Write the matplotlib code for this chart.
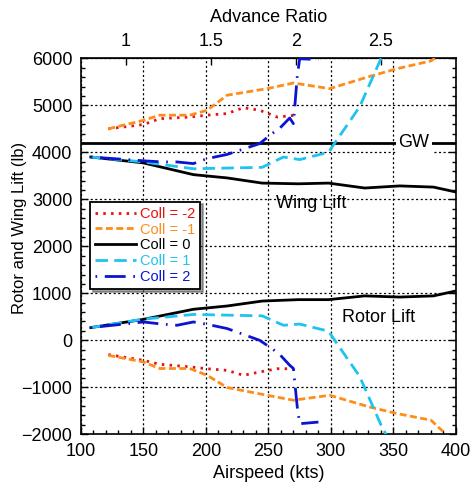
import matplotlib
matplotlib.use("Agg")
import matplotlib.pyplot as plt

plt.rcParams['font.family'] = ['Liberation Sans', 'DejaVu Sans']
plt.rcParams['lines.scale_dashes'] = False

# ---- data ----
gw_v = [100, 400]
gw_l = [4200, 4200]

c0_v = [108, 150, 190, 217, 245, 274, 298, 327, 355, 382, 400]
c0_wing = [3900, 3775, 3525, 3455, 3345, 3330, 3345, 3240, 3285, 3260, 3155]
c0_rotor = [270, 445, 660, 730, 835, 865, 865, 945, 920, 945, 1050]

c1_v = [108, 150, 190, 245, 262, 275, 298, 323, 340, 346]
c1_wing = [3900, 3795, 3650, 3680, 3900, 3845, 4000, 4970, 5995, 6300]
c1_rotor = [270, 450, 550, 520, 320, 345, 195, -770, -1800, -2100]

c2_v = [108, 150, 165, 177, 190, 201, 217, 243, 253, 259, 267, 270, 273, 275, 290]
c2_wing = [3900, 3820, 3795, 3795, 3760, 3865, 3955, 4185, 4400, 4510, 4730, 4610, 5600, 5990, 5975]
c2_rotor = [270, 390, 345, 320, 390, 340, 250, 0, -180, -300, -530, -600, -1400, -1775, -1740]

cm1_v = [122, 150, 163, 187, 201, 217, 249, 270, 299, 331, 353, 380, 391]
cm1_wing = [4500, 4680, 4790, 4790, 4895, 5215, 5355, 5475, 5355, 5615, 5780, 5945, 6170]
cm1_rotor = [-320, -460, -600, -600, -745, -1005, -1170, -1275, -1170, -1420, -1560, -1700, -1975]

cm2_v = [122, 150, 163, 187, 201, 217, 230, 243, 257, 270]
cm2_wing = [4500, 4590, 4715, 4750, 4790, 4825, 4950, 4895, 4750, 4785]
cm2_rotor = [-305, -425, -510, -565, -605, -640, -745, -675, -605, -605]

labels = ['Coll = -2', 'Coll = -1', 'Coll = 0', 'Coll = 1', 'Coll = 2']
colors = ['#e81010', '#ff8c1a', '#000000', '#1ec3f0', '#0a14d2']

x_ticks = [100, 150, 200, 250, 300, 350, 400]
y_ticks = [-2000, -1000, 0, 1000, 2000, 3000, 4000, 5000, 6000]
mu_ticks = [1, 1.5, 2, 2.5]
omega_r = 136.0  # kts per unit advance ratio

# ---- figure ----
fig = plt.figure(figsize=(4.72, 4.86), dpi=100)
ax = fig.add_axes([0.1712, 0.1064, 0.7949, 0.7736])

lw = 2.0
styles = [
    dict(color=colors[0], lw=lw, dashes=(1.8, 3.8)),
    dict(color=colors[1], lw=lw, dashes=(5, 2.5)),
    dict(color=colors[2], lw=lw),
    dict(color=colors[3], lw=lw, dashes=(9, 4.5)),
    dict(color=colors[4], lw=lw, dashes=(1.2, 5.5, 15, 5.5)),
]

ax.plot(gw_v, gw_l, color='black', lw=lw, zorder=3)

series = [(cm2_v, cm2_wing, cm2_rotor), (cm1_v, cm1_wing, cm1_rotor),
          (c0_v, c0_wing, c0_rotor), (c1_v, c1_wing, c1_rotor),
          (c2_v, c2_wing, c2_rotor)]
handles = []
for (v, w, r), st, lab in zip(series, styles, labels):
    h, = ax.plot(v, w, label=lab, zorder=4, **st)
    ax.plot(v, r, zorder=4, **st)
    handles.append(h)

ax.set_xlim(100, 400)
ax.set_ylim(-2000, 6000)
ax.set_xticks(x_ticks)
ax.set_yticks(y_ticks)
ax.set_xticks(range(100, 401, 10), minor=True)
ax.set_yticks(range(-2000, 6001, 200), minor=True)
ax.tick_params(axis='both', which='both', direction='in', labelsize=13)
ax.tick_params(axis='x', which='both', top=False, bottom=True, pad=6)
ax.tick_params(axis='y', which='both', left=True, right=True, pad=6)
ax.tick_params(which='major', length=5, width=1)
ax.tick_params(which='minor', length=3, width=1)
for s in ax.spines.values():
    s.set_linewidth(1.2)

ax.grid(True, which='major', color='black', lw=0.9, linestyle=(0, (1.5, 1.8)))
ax.set_axisbelow(True)

ax.set_xlabel('Airspeed (kts)', fontsize=13, labelpad=4)
ax.set_ylabel('Rotor and Wing Lift (lb)', fontsize=12)
ax.yaxis.set_label_coords(-0.143, 0.549)

sec = ax.secondary_xaxis('top', functions=(lambda v: v / omega_r, lambda m: m * omega_r))
sec.set_xticks(mu_ticks)
sec.set_xticklabels(['1', '1.5', '2', '2.5'])
sec.tick_params(direction='in', length=5, width=1, labelsize=13, pad=6)
sec.set_xlabel('Advance Ratio', fontsize=13, labelpad=8)

ax.text(366.5, 4200, 'GW', fontsize=13, ha='center', va='center', zorder=5,
        bbox=dict(fc='white', ec='none', pad=1.5))
ax.text(284, 2915, 'Wing Lift', fontsize=13, ha='center', va='center', zorder=5)
ax.text(338, 479, 'Rotor Lift', fontsize=13, ha='center', va='center', zorder=5)

leg = ax.legend(handles=handles, loc='upper left', bbox_to_anchor=(0.0245, 0.6186),
                borderaxespad=0, fontsize=10.5, handlelength=2.8, handletextpad=0.25,
                labelspacing=0.12, borderpad=0.35, fancybox=False, shadow=True,
                framealpha=1, edgecolor='black')
leg.get_frame().set_linewidth(1.3)
for t, c in zip(leg.get_texts(), colors):
    t.set_color(c)
leg.set_zorder(6)

fig.savefig('out.png', dpi=100)
